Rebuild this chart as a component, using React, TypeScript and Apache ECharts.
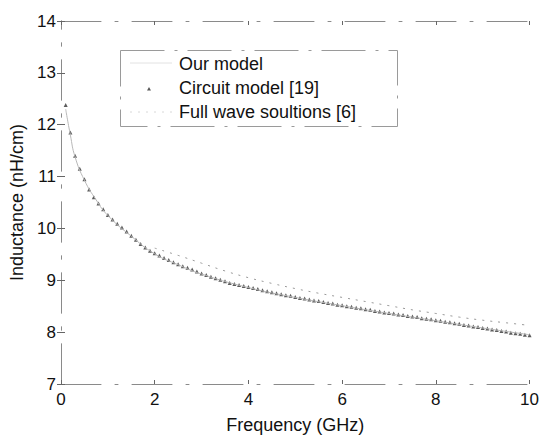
import React, { useEffect, useRef } from "react";
import * as echarts from "echarts";

const xTicks = [0, 2, 4, 6, 8, 10];
const yTicks = [7, 8, 9, 10, 11, 12, 13, 14];

// Circuit model [19] (dense markers), frequency in GHz
const circuitFreq = [
  0.1, 0.2, 0.3, 0.4, 0.5, 0.6, 0.7, 0.8, 0.9, 1.0,
  1.1, 1.2, 1.3, 1.4, 1.5, 1.6, 1.7, 1.8, 1.9, 2.0,
  2.1, 2.2, 2.3, 2.4, 2.5, 2.6, 2.7, 2.8, 2.9, 3.0,
  3.1, 3.2, 3.3, 3.4, 3.5, 3.6, 3.7, 3.8, 3.9, 4.0,
  4.1, 4.2, 4.3, 4.4, 4.5, 4.6, 4.7, 4.8, 4.9, 5.0,
  5.1, 5.2, 5.3, 5.4, 5.5, 5.6, 5.7, 5.8, 5.9, 6.0,
  6.1, 6.2, 6.3, 6.4, 6.5, 6.6, 6.7, 6.8, 6.9, 7.0,
  7.1, 7.2, 7.3, 7.4, 7.5, 7.6, 7.7, 7.8, 7.9, 8.0,
  8.1, 8.2, 8.3, 8.4, 8.5, 8.6, 8.7, 8.8, 8.9, 9.0,
  9.1, 9.2, 9.3, 9.4, 9.5, 9.6, 9.7, 9.8, 9.9, 10.0,
];
const circuitL = [
  12.38, 11.85, 11.40, 11.15, 10.95, 10.75, 10.60, 10.48, 10.37, 10.26,
  10.17, 10.09, 10.02, 9.94, 9.86, 9.78, 9.70, 9.63, 9.57, 9.52,
  9.48, 9.43, 9.39, 9.35, 9.31, 9.27, 9.24, 9.21, 9.17, 9.13,
  9.10, 9.07, 9.04, 9.01, 8.98, 8.95, 8.93, 8.91, 8.89, 8.87,
  8.85, 8.83, 8.81, 8.79, 8.77, 8.75, 8.73, 8.71, 8.70, 8.68,
  8.66, 8.65, 8.63, 8.61, 8.60, 8.58, 8.56, 8.55, 8.53, 8.52,
  8.50, 8.49, 8.47, 8.46, 8.44, 8.43, 8.41, 8.40, 8.38, 8.37,
  8.36, 8.34, 8.33, 8.31, 8.30, 8.29, 8.27, 8.26, 8.25, 8.23,
  8.22, 8.20, 8.19, 8.17, 8.16, 8.14, 8.13, 8.11, 8.10, 8.08,
  8.07, 8.05, 8.04, 8.02, 8.01, 7.99, 7.98, 7.97, 7.95, 7.94,
];

// Our model (solid line)
const modelFreq = [0.1, 0.2, 0.3, 0.5, 0.75, 1, 1.5, 2, 2.5, 3, 4, 5, 6, 7, 8, 9, 10];
const modelL = [12.3, 11.8, 11.38, 10.93, 10.55, 10.25, 9.85, 9.51, 9.30, 9.12, 8.86, 8.67, 8.51, 8.36, 8.22, 8.08, 7.95];

// Full wave soultions [6] (dotted line)
const fullFreq = [2, 2.5, 3, 3.5, 4, 4.5, 5, 5.5, 6, 6.5, 7, 7.5, 8, 8.5, 9, 9.5, 10];
const fullL = [9.62, 9.48, 9.33, 9.18, 9.05, 8.94, 8.84, 8.75, 8.67, 8.59, 8.51, 8.43, 8.36, 8.29, 8.23, 8.18, 8.13];

const legendNames = ["Our model", "Circuit model [19]", "Full wave soultions [6]"];

const FONT = "'Liberation Sans', Arial, Helvetica, sans-serif";

export default function App() {
  const ref = useRef<HTMLDivElement>(null);
  useEffect(() => {
    if (!ref.current) return;
    const chart = echarts.init(ref.current, undefined, { renderer: "svg" });
    const frame = { color: "#8a8a8a", width: 1, type: [40, 14, 3, 14] as any };
    const zip = (a: number[], b: number[]) => a.map((v, i) => [v, b[i]]);
    const hidden = { color: "rgba(0,0,0,0)", borderWidth: 0 };
    chart.setOption({
      animation: false,
      backgroundColor: "#ffffff",
      grid: { left: 57, right: 11, top: 21, bottom: 46, containLabel: false },
      legend: {
        orient: "vertical",
        left: 120,
        top: 50,
        padding: [5, 10, 6, 10],
        itemGap: 6,
        itemWidth: 44,
        itemHeight: 14,
        borderWidth: 0,
        textStyle: { fontFamily: FONT, fontSize: 18, color: "#111" },
        data: legendNames.map((n) => ({ name: n, icon: "rect", itemStyle: hidden })),
      },
      graphic: [
        {
          type: "rect",
          shape: { x: 120.5, y: 50.5, width: 277, height: 76 },
          style: { fill: "none", stroke: "#9a9a9a", lineWidth: 1, lineDash: [44, 10, 3, 10] },
          silent: true,
          z: 10,
        },
        {
          type: "line",
          shape: { x1: 130, y1: 63, x2: 172, y2: 63 },
          style: { stroke: "#e2e2e2", lineWidth: 1 },
          silent: true,
        },
        {
          type: "polygon",
          shape: { points: [[149, 87], [147, 90.5], [151, 90.5]] },
          style: { fill: "#555" },
          silent: true,
        },
        {
          type: "line",
          shape: { x1: 130, y1: 112, x2: 172, y2: 112 },
          style: { stroke: "#d8d8d8", lineWidth: 1, lineDash: [2, 6] },
          silent: true,
        },
      ],
      xAxis: [
        {
          type: "value",
          min: 0,
          max: 10,
          interval: 2,
          position: "bottom",
          name: "Frequency (GHz)",
          nameLocation: "middle",
          nameGap: 32,
          nameTextStyle: { fontFamily: FONT, fontSize: 18, color: "#111" },
          axisLine: { show: true, lineStyle: frame },
          axisTick: { show: true, inside: true, length: 4, lineStyle: { color: "#666" } },
          axisLabel: {
            fontFamily: FONT,
            fontSize: 17,
            color: "#111",
            margin: 7,
            formatter: (v: number) => (xTicks.includes(v) ? String(v) : ""),
          },
          splitLine: { show: false },
        },
        {
          type: "value",
          min: 0,
          max: 10,
          interval: 2,
          position: "top",
          axisLine: { show: true, lineStyle: frame },
          axisTick: { show: true, inside: true, length: 4, lineStyle: { color: "#666" } },
          axisLabel: { show: false },
          splitLine: { show: false },
        },
      ],
      yAxis: [
        {
          type: "value",
          min: 7,
          max: 14,
          interval: 1,
          position: "left",
          name: "Inductance (nH/cm)",
          nameLocation: "middle",
          nameGap: 35,
          nameTextStyle: { fontFamily: FONT, fontSize: 18, color: "#111" },
          axisLine: { show: true, lineStyle: frame },
          axisTick: { show: true, inside: true, length: 4, lineStyle: { color: "#666" } },
          axisLabel: {
            fontFamily: FONT,
            fontSize: 17,
            color: "#111",
            margin: 5,
            formatter: (v: number) => (yTicks.includes(v) ? String(v) : ""),
          },
          splitLine: { show: false },
        },
        {
          type: "value",
          min: 7,
          max: 14,
          interval: 1,
          position: "right",
          axisLine: { show: true, lineStyle: frame },
          axisTick: { show: true, inside: true, length: 4, lineStyle: { color: "#666" } },
          axisLabel: { show: false },
          splitLine: { show: false },
        },
      ],
      series: [
        {
          name: "Our model",
          type: "line",
          xAxisIndex: 0,
          yAxisIndex: 0,
          data: zip(modelFreq, modelL),
          showSymbol: false,
          symbol: "none",
          smooth: true,
          lineStyle: { color: "#b8b8b8", width: 1 },
          itemStyle: { color: "#b8b8b8" },
        },
        {
          name: "Circuit model [19]",
          type: "scatter",
          xAxisIndex: 0,
          yAxisIndex: 0,
          data: zip(circuitFreq, circuitL),
          symbol: "triangle",
          symbolSize: 4,
          itemStyle: { color: "#333333" },
        },
        {
          name: "Full wave soultions [6]",
          type: "line",
          xAxisIndex: 0,
          yAxisIndex: 0,
          data: zip(fullFreq, fullL),
          showSymbol: false,
          symbol: "none",
          smooth: true,
          lineStyle: { color: "#9a9a9a", width: 1, type: [2, 6] },
          itemStyle: { color: "#9a9a9a" },
        },
      ],
    });
    return () => chart.dispose();
  }, []);
  return <div ref={ref} style={{ width: 542, height: 439, position: "absolute", left: 0, top: 0 }} />;
}
